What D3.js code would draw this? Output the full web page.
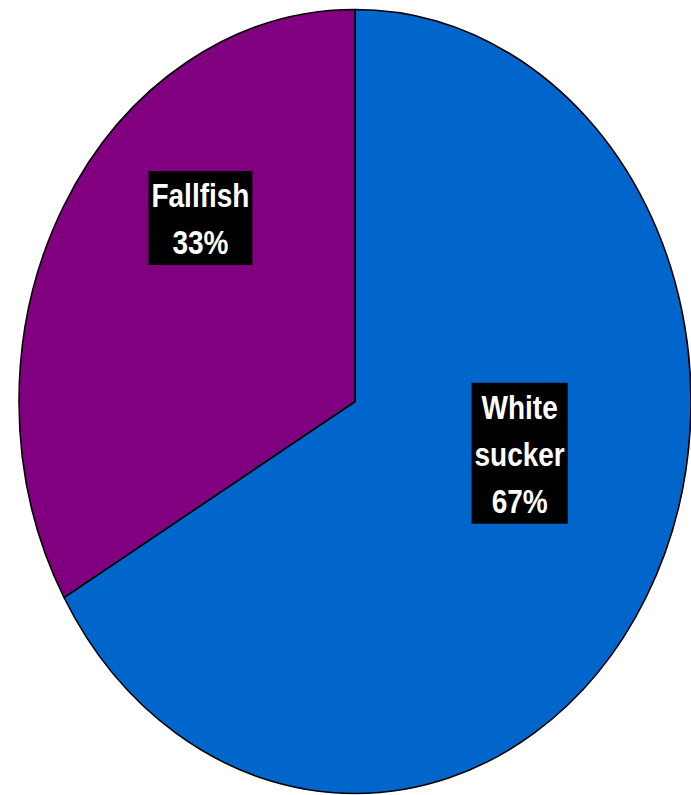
<!DOCTYPE html>
<html><head><meta charset="utf-8">
<script src="https://cdn.jsdelivr.net/npm/d3@7/dist/d3.min.js"></script>
<style>html,body{margin:0;padding:0;background:#fff;}svg{display:block;}</style>
</head><body>
<script>
const categories = ["White sucker", "Fallfish"];
const counts = [2, 1];
const nameLines = [["White", "sucker"], ["Fallfish"]];
const colors = ["#0066CC", "#800080"];

const W = 691, H = 795;
const cx = 355, cy = 401.5, rx = 336, ry = 392;
const sy = ry / rx;
// label centre offsets as fractions of radius (Excel best-fit placement)
const labelPos = [[0.49, 0.135], [-0.46, -0.465]];

const total = d3.sum(counts);
const svg = d3.select("body").append("svg").attr("width", W).attr("height", H);

const pie = d3.pie().sort(null).value(d => d)(counts);
const arc = d3.arc().innerRadius(0).outerRadius(rx);

const g = svg.append("g").attr("transform", `translate(${cx},${cy}) scale(1,${sy})`);
g.selectAll("path").data(pie).join("path")
  .attr("d", arc)
  .attr("fill", (d, i) => colors[i])
  .attr("stroke", "#000")
  .attr("stroke-width", 1.6)
  .attr("stroke-linejoin", "round")
  .attr("vector-effect", "non-scaling-stroke");

const fs = 28, ts = 1.16, lh = 40.5;
categories.forEach((c, i) => {
  const lines = nameLines[i].concat([Math.round(counts[i] / total * 100) + "%"]);
  const lx = cx + labelPos[i][0] * rx, ly = cy + labelPos[i][1] * ry;
  const lg = svg.append("g").attr("transform", `translate(${lx},${ly}) scale(1,${ts})`);
  const rect = lg.append("rect").attr("fill", "#000");
  const n = lines.length;
  const texts = lines.map((t, j) => lg.append("text")
    .attr("x", 0)
    .attr("y", (j - (n - 1) / 2) * lh + fs * 0.36)
    .attr("text-anchor", "middle")
    .attr("font-family", "Liberation Sans, Arial, sans-serif")
    .attr("font-weight", "bold")
    .attr("font-size", fs)
    .attr("fill", "#fff")
    .text(t));
  const wmax = d3.max(texts, t => t.node().getComputedTextLength());
  const bw = wmax + 6;
  const bh = n * lh;
  rect.attr("x", -bw / 2).attr("y", -bh / 2 - 1).attr("width", bw).attr("height", bh);
});
</script>
</body></html>
